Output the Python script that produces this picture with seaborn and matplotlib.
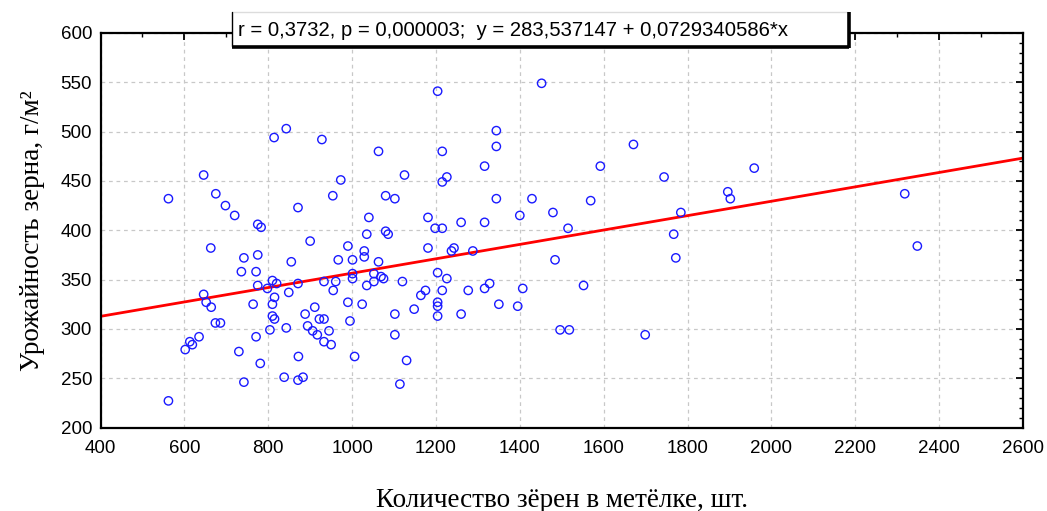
import numpy as np
import pandas as pd
import matplotlib
matplotlib.use("Agg")
import matplotlib.pyplot as plt
import seaborn as sns
from matplotlib.lines import Line2D
from matplotlib.patches import Rectangle
from matplotlib.ticker import MultipleLocator

# ---- data ----
grain_count = [
    562, 646, 675, 698, 720, 775, 783, 814, 843, 928, 871, 954,
    663, 742, 775, 900, 736, 771, 855, 646, 652, 664, 674, 686, 764, 775,
    798, 810, 820, 815, 810, 810, 815, 804, 843, 849, 871, 933, 955, 911,
    888, 922, 933, 894, 906, 917, 945, 933, 950, 635, 613, 619, 602, 730,
    771, 781, 872, 838, 871, 883, 742, 562,
    1204, 1452, 1063, 1215, 1344, 1344, 1316, 1125, 1215, 1226, 973, 1080,
    1102, 1344, 1429, 1040, 1181, 1260, 1316, 1400, 1479, 1198, 1215,
    1035, 1080, 1086, 990, 1029, 1029, 967, 1001, 1063, 1181, 1237, 1243,
    1288, 1001, 1001, 1052, 1069, 1075, 1052, 1035, 961, 1120, 1204, 1226,
    1215, 1175, 1164, 1277, 1316, 1328, 1407, 1484, 990, 1024, 995, 1102,
    1148, 1204, 1204, 1204, 1260, 1350, 1395, 1102, 1006, 1130, 1114,
    1671, 1592, 1744, 1959, 1569, 1515, 1784, 1896, 1902,
    1767, 1772, 1552, 1496, 1518, 1699,
    2318, 2348,
]
grain_yield = [
    432, 456, 437, 425, 415, 406, 403, 494, 503, 492, 423, 435,
    382, 372, 375, 389, 358, 358, 368, 335, 327, 322, 306, 306, 325, 344,
    341, 349, 346, 332, 325, 313, 310, 299, 301, 337, 346, 348, 339, 322,
    315, 310, 310, 303, 298, 294, 298, 287, 284, 292, 287, 284, 279, 277,
    292, 265, 272, 251, 248, 251, 246, 227,
    541, 549, 480, 480, 501, 485, 465, 456, 449, 454, 451, 435,
    432, 432, 432, 413, 413, 408, 408, 415, 418, 402, 402,
    396, 399, 396, 384, 379, 373, 370, 370, 368, 382, 379, 382,
    379, 356, 351, 356, 353, 351, 348, 344, 348, 348, 357, 351,
    339, 339, 334, 339, 341, 346, 341, 370, 327, 325, 308, 315,
    320, 327, 323, 313, 315, 325, 323, 294, 272, 268, 244,
    487, 465, 454, 463, 430, 402, 418, 439, 432,
    396, 372, 344, 299, 299, 294,
    437, 384,
]
intercept = 283.537147
slope = 0.0729340586
x_limits = [400, 2600]
y_limits = [200, 600]
x_label = "Количество зёрен в метёлке, шт."
y_label = "Урожайность зерна, г/м²"
stats_text = "r = 0,3732, p = 0,000003;  y = 283,537147 + 0,0729340586*x"

df = pd.DataFrame({"count": grain_count, "yield": grain_yield})
line_x = np.array(x_limits, dtype=float)
line_df = pd.DataFrame({"x": line_x, "y": intercept + slope * line_x})

# ---- style ----
sns.set_theme(style="white")
plt.rcParams["font.family"] = ["Liberation Sans", "DejaVu Sans"]

W, H = 1047, 511
fig = plt.figure(figsize=(W / 100, H / 100), dpi=100)
ax_l, ax_r, ax_t, ax_b = 100.5, 1023.0, 33.0, 427.5
ax = fig.add_axes([ax_l / W, 1 - ax_b / H, (ax_r - ax_l) / W, (ax_b - ax_t) / H])

ax.grid(True, which="major", linestyle=(0, (3, 3)), color="#c8c8c8", linewidth=0.9)
ax.set_axisbelow(True)

sns.lineplot(data=line_df, x="x", y="y", ax=ax, color="#ff0000", linewidth=2.0, zorder=2)
sns.scatterplot(data=df, x="count", y="yield", ax=ax, marker="o",
                facecolor="none", edgecolor="#1a1aff", s=36, linewidth=1.0, zorder=3)

ax.set_xlim(*x_limits)
ax.set_ylim(*y_limits)
ax.xaxis.set_major_locator(MultipleLocator(200))
ax.xaxis.set_minor_locator(MultipleLocator(100))
ax.yaxis.set_major_locator(MultipleLocator(50))
ax.yaxis.set_minor_locator(MultipleLocator(10))
ax.tick_params(which="both", direction="in", top=True, right=True, colors="black")
ax.tick_params(which="major", length=5, width=1.3, labelsize=13.5)
ax.tick_params(axis="x", which="major", pad=9)
ax.tick_params(axis="y", which="major", pad=6)
ax.tick_params(which="minor", length=3, width=1.0)

for sp in ax.spines.values():
    sp.set_color("black")
    sp.set_linewidth(1.6)

serif = ["Liberation Serif", "DejaVu Serif"]
ax.set_xlabel(x_label, family=serif, fontsize=19.5, labelpad=22, color="black")
ax.set_ylabel(y_label, family=serif, fontsize=19.5, labelpad=11, color="black")

# ---- statistics box (Statistica style: light top, thin left, thick right/bottom) ----
bx_l, bx_r, bx_t, bx_b = 232.0, 848.0, 12.5, 46.5
tf = fig.transFigure
fig.add_artist(Rectangle((bx_l / W, 1 - bx_b / H), (bx_r - bx_l) / W, (bx_b - bx_t) / H,
                         transform=tf, facecolor="white", edgecolor="none", zorder=5))
fig.add_artist(Line2D([bx_l / W, bx_r / W], [1 - bx_t / H] * 2, transform=tf,
                      color="#dcdcdc", linewidth=1.0, zorder=6))
fig.add_artist(Line2D([bx_l / W] * 2, [1 - bx_t / H, 1 - bx_b / H], transform=tf,
                      color="black", linewidth=1.0, zorder=6))
fig.add_artist(Line2D([bx_l / W, (bx_r + 1) / W], [1 - (bx_b + 0.5) / H] * 2, transform=tf,
                      color="black", linewidth=2.6, zorder=6, solid_capstyle="butt"))
fig.add_artist(Line2D([(bx_r + 0.5) / W] * 2, [1 - bx_t / H, 1 - (bx_b + 1.5) / H], transform=tf,
                      color="black", linewidth=2.6, zorder=6, solid_capstyle="butt"))
fig.text(238 / W, 1 - 30 / H, stats_text, ha="left", va="center", fontsize=14.6,
         color="black", zorder=7)

fig.savefig("out.png", dpi=100)
